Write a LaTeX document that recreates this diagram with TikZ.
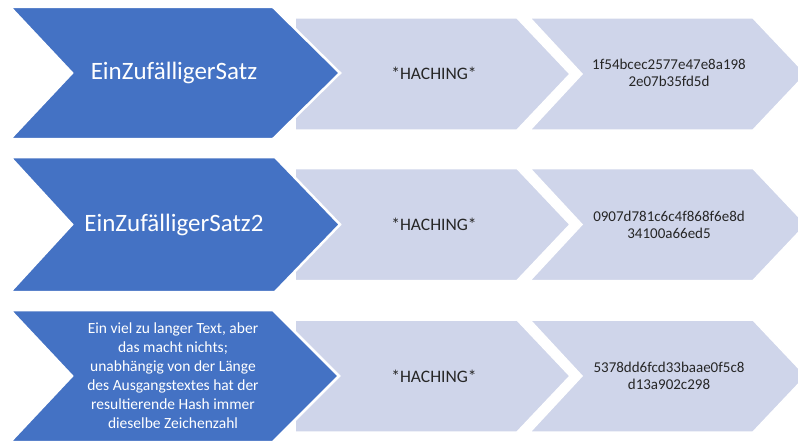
\documentclass[tikz,border=0pt]{standalone}
\usepackage{fontspec}
\setmainfont{Carlito}
\definecolor{chevblue}{HTML}{4472C4}
\definecolor{chevgray}{HTML}{CFD5EA}
\tikzset{
  bluechev/.style={fill=chevblue, draw=white, line width=2.5pt},
  graychev/.style={fill=chevgray, draw=white, line width=1.5pt},
  intext/.style={text=white, align=center, font=\fontsize{25}{29}\selectfont},
  longtext/.style={text=white, align=center, font=\fontsize{15.5}{19}\selectfont},
  hachtext/.style={text=black!85, font=\fontsize{17.5}{20}\selectfont},
  hashtext/.style={text=black!85, align=center, font=\fontsize{15}{17}\selectfont}
}
\begin{document}
\begin{tikzpicture}[x=1pt,y=1pt]
		\tikzstyle{every node}+=[inner sep=0pt]
		\clip (0,0) rectangle (798,-444);
		\fill [white] (0,0) rectangle (798,-444);
		% row 1
		\draw [graychev] (530,-18) -- (753,-18) -- (806,-74) -- (753,-130) -- (530,-130) -- (582,-74) -- cycle;
		\draw [graychev] (295,-18) -- (517,-18) -- (570,-74) -- (517,-130) -- (295,-130) -- cycle;
		\draw [bluechev] (10,-7) -- (273,-7) -- (340,-73) -- (273,-139) -- (10,-139) -- (72,-73) -- cycle;
		\node [intext] (satz1) at (174,-73) {EinZufälligerSatz};
		\node [hachtext] (hach1) at (434,-73) {*HACHING*};
		\node [hashtext] (hash1) at (669,-73) {1f54bcec2577e47e8a198\\2e07b35fd5d};
		% row 2
		\draw [graychev] (530,-168.5) -- (753,-168.5) -- (806,-224.5) -- (753,-280.5) -- (530,-280.5) -- (582,-224.5) -- cycle;
		\draw [graychev] (295,-168.5) -- (517,-168.5) -- (570,-224.5) -- (517,-280.5) -- (295,-280.5) -- cycle;
		\draw [bluechev] (10,-157) -- (275,-157) -- (340,-224.5) -- (275,-292) -- (10,-292) -- (72,-224.5) -- cycle;
		\node [intext] (satz2) at (174,-224.5) {EinZufälligerSatz2};
		\node [hachtext] (hach2) at (434,-224.5) {*HACHING*};
		\node [hashtext] (hash2) at (669,-224.5) {0907d781c6c4f868f6e8d\\34100a66ed5};
		% row 3
		\draw [graychev] (530,-320) -- (753,-320) -- (806,-376) -- (753,-432) -- (530,-432) -- (582,-376) -- cycle;
		\draw [graychev] (295,-320) -- (517,-320) -- (570,-376) -- (517,-432) -- (295,-432) -- cycle;
		\draw [bluechev] (10,-310) -- (273,-310) -- (339,-376) -- (273,-442) -- (10,-442) -- (72,-376) -- cycle;
		\node [longtext] (satz3) at (173,-376) {Ein viel zu langer Text, aber\\das macht nichts;\\unabhängig von der Länge\\des Ausgangstextes hat der\\resultierende Hash immer\\dieselbe Zeichenzahl};
		\node [hachtext] (hach3) at (434,-376) {*HACHING*};
		\node [hashtext] (hash3) at (669,-376) {5378dd6fcd33baae0f5c8\\d13a902c298};
\end{tikzpicture}
\end{document}
